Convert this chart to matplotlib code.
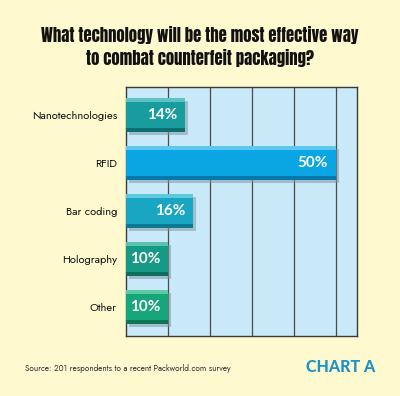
import matplotlib.pyplot as plt
import numpy as np

categories = ["Nanotechnologies", "RFID", "Bar coding", "Holography", "Other"]
values = [14, 50, 16, 10, 10]
bar_colors = ["#189c9e", "#0aa6e4", "#18a6c2", "#169a86", "#16a67a"]
dark_colors = ["#0e6e70", "#0878aa", "#0e7890", "#0e6e5e", "#0e7656"]
light_colors = ["#5cc4c4", "#5cc8f2", "#5ccadc", "#5cc2b0", "#5ccaa4"]

bg = "#fff9cf"
plot_bg = "#c9e9f9"
title_font = ["Anton", "Oswald", "DejaVu Sans"]
body_font = ["Jost", "Lato", "DejaVu Sans"]
bold_font = ["Lato", "DejaVu Sans"]

fig = plt.figure(figsize=(4, 3.96), dpi=100)
fig.patch.set_facecolor(bg)
ax = fig.add_axes([0.315, 0.1515, 0.5775, 0.6288])
ax.set_facecolor(plot_bg)

y = np.arange(len(categories))
h = 0.7

# drop shadow
ax.barh(y + 0.06, values, left=0.7, height=h, color="#7d9aa6", alpha=0.55, zorder=2)
# main bar
ax.barh(y, values, height=h, color=bar_colors, zorder=3)
# bevel strips
ax.barh(y - h / 2 + 0.04, values, height=0.08, color=light_colors, zorder=4)
ax.barh(y + h / 2 - 0.04, values, height=0.08, color=dark_colors, zorder=4)

for yi, v in zip(y, values):
    ax.text(v - 1.9, yi, "%d%%" % v, color="white", fontsize=11, fontweight="bold",
            family=bold_font, ha="right", va="center", zorder=5)

ax.set_xlim(0, 55)
ax.set_ylim(4.6, -0.58)
ax.set_xticks([10, 20, 30, 40, 50])
ax.xaxis.grid(True, color="#4a4a4a", linewidth=0.9, zorder=1)
ax.set_axisbelow(True)
ax.tick_params(axis="x", length=0, labelbottom=False)
ax.set_yticks(y)
ax.set_yticklabels(categories, fontsize=8, family=body_font, color="#111111")
ax.tick_params(axis="y", length=0, pad=6.5)
for s in ax.spines.values():
    s.set_color("#3a3a3a")
    s.set_linewidth(1.0)

fig.text(0.5, 0.912, "What technology will be the most effective way", ha="center", va="center",
         fontsize=12, family=title_font, color="#111111")
fig.text(0.5, 0.853, "to combat counterfeit packaging?", ha="center", va="center",
         fontsize=12, family=title_font, color="#111111")

fig.text(0.0625, 0.070, "Source: 201 respondents to a recent Packworld.com survey", ha="left", va="center",
         fontsize=5.9, family=body_font, color="#333333")
fig.text(0.937, 0.072, "CHART A", ha="right", va="center", fontsize=11.5, fontweight="black",
         family=bold_font, color="#1b92c8")

fig.savefig("out.png", dpi=100, facecolor=bg)
